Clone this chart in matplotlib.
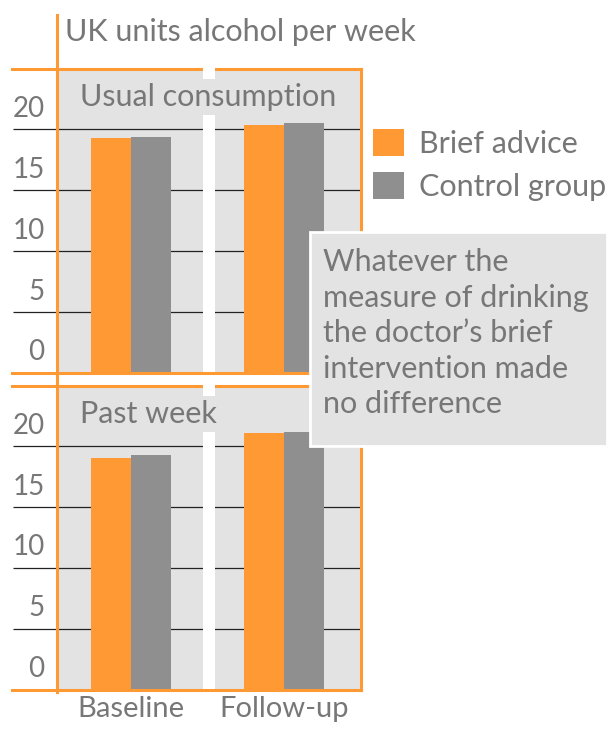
"""
Brief advice vs control group: UK units of alcohol per week
"""

import numpy as np
import matplotlib.pyplot as plt
from matplotlib.lines import Line2D
from matplotlib.patches import Rectangle, Patch

plt.rcParams['font.family'] = ['Lato', 'DejaVu Sans']

# data
categories = ['Baseline', 'Follow-up']
panel_titles = ['Usual consumption', 'Past week']
series_names = ['Brief advice', 'Control group']
usual_brief = [19.3, 20.4]
usual_control = [19.4, 20.5]
past_brief = [19.0, 21.1]
past_control = [19.25, 21.15]
y_ticks = [0, 5, 10, 15, 20]

ORANGE = '#ff9933'
GREY_BAR = '#8f8f8f'
BG = '#e3e3e3'
TXT = '#777777'
W, H = 613, 729

fig = plt.figure(figsize=(W / 100, H / 100), dpi=100)


def fx(px):
    return px / W


def fy(py):
    return 1 - py / H


def add_panel(top, bottom):
    return fig.add_axes([fx(57), fy(bottom), fx(360.5) - fx(57), fy(top) - fy(bottom)])


ax_top = add_panel(68.5, 373)
ax_bot = add_panel(385.5, 689.5)

x = np.arange(len(categories))
bw = 0.262
panels = [(ax_top, usual_brief, usual_control, panel_titles[0]),
          (ax_bot, past_brief, past_control, panel_titles[1])]

for ax, brief, control, title in panels:
    ax.set_facecolor(BG)
    ax.set_xlim(-0.487, 1.503)
    ax.set_ylim(0, 25)
    ax.set_axisbelow(True)
    ax.bar(x - bw / 2, brief, bw, color=ORANGE, zorder=2)
    ax.bar(x + bw / 2, control, bw, color=GREY_BAR, zorder=2)

    # white gap between the two groups
    ax.axvspan(0.47, 0.549, ymin=0, ymax=1.01, color='white', lw=0, zorder=1, clip_on=False)

    ax.set_yticks(y_ticks)
    ax.yaxis.grid(True, color='#222222', lw=0.9)
    ax.xaxis.grid(False)
    ax.tick_params(axis='y', length=31.5, width=0.9, color='#222222', direction='out', labelleft=False)
    ax.tick_params(axis='x', length=0)

    for v in y_ticks:
        ax.annotate(str(v), xy=(0, v), xycoords=('axes fraction', 'data'),
                    xytext=(-9, 9), textcoords='offset points',
                    ha='right', va='baseline', fontsize=20, color=TXT)

    for side in ['top', 'bottom', 'right']:
        ax.spines[side].set_color(ORANGE)
        ax.spines[side].set_linewidth(2.2)
    ax.spines['left'].set_visible(False)
    ax.spines['top'].set_zorder(0.6)
    ax.spines['bottom'].set_zorder(4)

    # orange lines running on to the left of the axis
    ax.plot([-0.149, 0], [1, 1], transform=ax.transAxes, color=ORANGE, lw=2.2, clip_on=False, zorder=0.6)
    ax.plot([-0.149, 0], [0, 0], transform=ax.transAxes, color=ORANGE, lw=2.2, clip_on=False, zorder=5)

    ax.text(0.076, 0.906, title, transform=ax.transAxes, ha='left', va='center',
            fontsize=22, color=TXT, zorder=3,
            bbox=dict(facecolor=BG, edgecolor='none', pad=3))

ax_top.set_xticks(x)
ax_top.set_xticklabels([])
ax_bot.set_xticks(x)
ax_bot.set_xticklabels(categories, fontsize=21, color=TXT)
ax_bot.tick_params(axis='x', pad=5)

# long orange vertical line
fig.add_artist(Line2D([fx(56.5), fx(56.5)], [fy(15), fy(692)], color=ORANGE, lw=2.2, zorder=3))

fig.text(fx(65), fy(32), 'UK units alcohol per week', ha='left', va='center', fontsize=22, color=TXT)

handles = [Patch(facecolor=ORANGE, edgecolor='none'), Patch(facecolor=GREY_BAR, edgecolor='none')]
leg = fig.legend(handles, series_names, loc='upper left', bbox_to_anchor=(fx(373), fy(129)),
                 frameon=False, fontsize=22, handlelength=1.0, handleheight=1.0,
                 handletextpad=0.5, labelspacing=0.45, borderpad=0, borderaxespad=0)
for t in leg.get_texts():
    t.set_color(TXT)

# note box
fig.add_artist(Rectangle((fx(310), fy(446)), fx(607) - fx(310), fy(232) - fy(446),
                         transform=fig.transFigure, facecolor=BG, edgecolor='white', lw=2, zorder=6))
fig.text(fx(323), fy(248),
         'Whatever the\nmeasure of drinking\nthe doctor\u2019s brief\nintervention made\nno difference',
         ha='left', va='top', fontsize=22, color=TXT, linespacing=1.33, zorder=7)

fig.savefig('out.png', dpi=100)
